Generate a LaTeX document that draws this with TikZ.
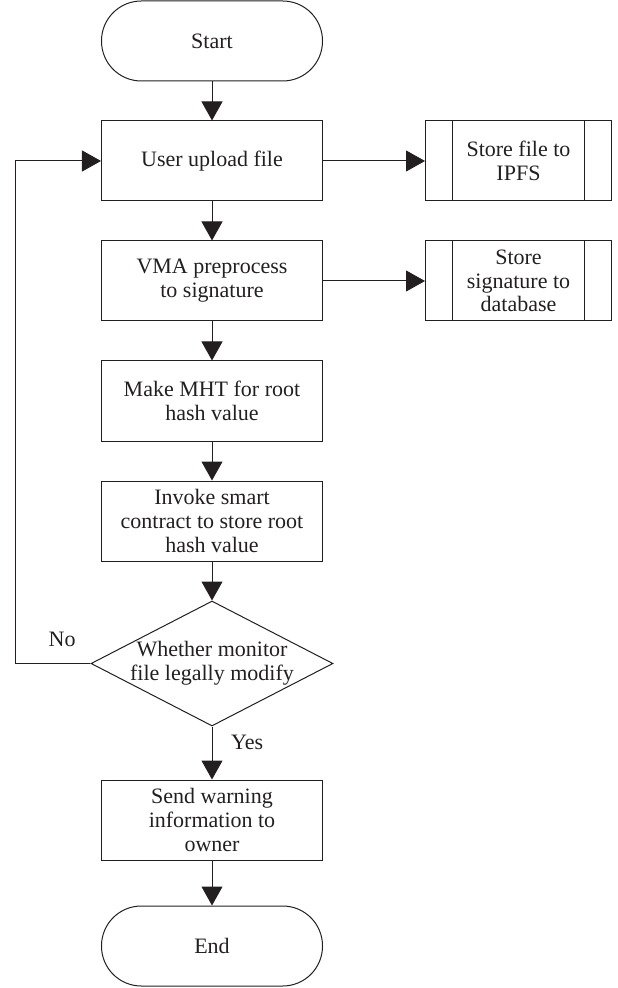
\documentclass[tikz,border=0pt]{standalone}
\usepackage{fontspec}
\setmainfont{Liberation Serif}
\usetikzlibrary{arrows.meta,positioning,calc,shapes.geometric}
\definecolor{FlowInk}{HTML}{231F20}
\begin{document}
\begin{tikzpicture}[
  font=\fontsize{11}{11.9}\selectfont,
  every node/.style={text=FlowInk},
  terminal/.style={draw=FlowInk,line width=0.5pt,rounded corners=19.9pt,minimum width=110.5pt,minimum height=40pt,align=center},
  proc/.style={draw=FlowInk,line width=0.5pt,minimum width=110.5pt,minimum height=40pt,align=center,inner sep=2pt},
  storebox/.style={draw=FlowInk,line width=0.5pt,minimum width=93pt,minimum height=40pt,align=center,inner sep=1pt,
    path picture={
      \draw[FlowInk,line width=0.5pt] ([xshift=13.5pt]path picture bounding box.north west) -- ([xshift=13.5pt]path picture bounding box.south west);
      \draw[FlowInk,line width=0.5pt] ([xshift=-13.5pt]path picture bounding box.north east) -- ([xshift=-13.5pt]path picture bounding box.south east);
    }},
  decision/.style={draw=FlowInk,line width=0.5pt,diamond,aspect=1.9,inner sep=-5pt,minimum width=121pt,minimum height=62.5pt,align=center},
  arr/.style={-{Triangle[length=9.5pt,width=10.5pt]},line width=0.5pt,FlowInk},
]
\useasboundingbox (-106pt,20.5pt) rectangle (202.5pt,-473.5pt);
\node[terminal] (start) at (0,0) {Start};
\node[proc,below=19.5pt of start] (upload) {User upload file};
\node[storebox,right=51pt of upload] (ipfs) {Store file to\\IPFS};
\node[proc,below=19.5pt of upload] (vma) {VMA preprocess\\to signature};
\node[storebox,right=51pt of vma] (sigdb) {Store\\signature to\\database};
\node[proc,below=19.5pt of vma] (mht) {Make MHT for root\\hash value};
\node[proc,below=19.5pt of mht] (invoke) {Invoke smart\\contract to store root\\hash value};
\node[decision,below=19.5pt of invoke] (check) {Whether monitor\\file legally modify};
\node[proc,below=26.5pt of check] (warn) {Send warning\\information to\\owner};
\node[terminal,below=22.5pt of warn] (end) {End};
\coordinate (loopx) at ($(upload.west)+(-42.5pt,0)$);
\draw[arr] (start) -- (upload);
\draw[arr] (upload) -- (ipfs);
\draw[arr] (upload) -- (vma);
\draw[arr] (vma) -- (sigdb);
\draw[arr] (vma) -- (mht);
\draw[arr] (mht) -- (invoke);
\draw[arr] (invoke) -- (check);
\draw[arr] (check.south) -- node[pos=0.3,right=6pt]{Yes} (warn.north);
\draw[arr] (warn) -- (end);
\draw[arr] (check.west) -- node[pos=0.38,above,yshift=5pt]{No} (check.west -| loopx) |- (upload.west);
\end{tikzpicture}
\end{document}
